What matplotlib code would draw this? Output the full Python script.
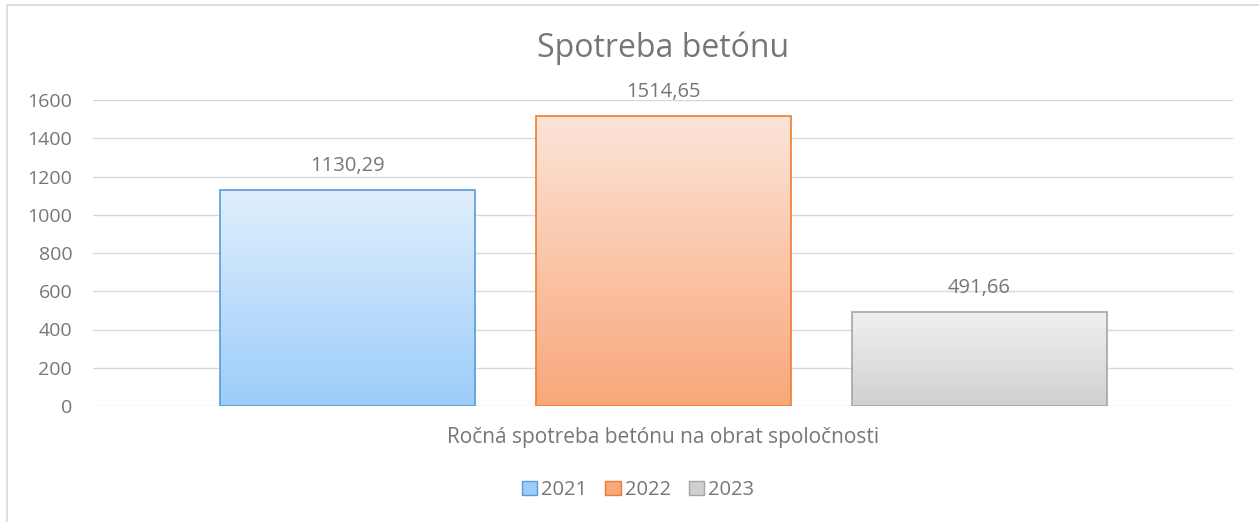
import matplotlib
matplotlib.use('Agg')
import matplotlib.pyplot as plt
from matplotlib.patches import Rectangle, Patch
from matplotlib.colors import LinearSegmentedColormap
from matplotlib.lines import Line2D
import numpy as np

plt.rcParams['font.family'] = ['Open Sans', 'DejaVu Sans']

years = ["2021", "2022", "2023"]
values = [1130.29, 1514.65, 491.66]
labels = ["1130,29", "1514,65", "491,66"]
category = "Ročná spotreba betónu na obrat spoločnosti"
title = "Spotreba betónu"

# top color, bottom color, edge color
styles = [
    ("#e0effd", "#9ccdfa", "#5b9bd5"),
    ("#fce4d7", "#f9a77a", "#ed7d31"),
    ("#f1f1f1", "#d0d0d0", "#a5a5a5"),
]

text_col = "#767676"
grid_col = "#d9d9d9"

fig = plt.figure(figsize=(12.59, 5.22), dpi=100)
W, H = 1259, 522

# chart border (only left and top show in the picture)
fig.add_artist(Line2D([7 / W, 7 / W, 1.0], [0.0, 1 - 5 / H, 1 - 5 / H], transform=fig.transFigure,
                      color="#d9d9d9", linewidth=1.2))

ax = fig.add_axes([93 / W, 1 - 406 / H, 1140 / W, 306 / H])
ax.set_yticks(np.arange(0, 1601, 200))
ax.tick_params(axis='y', length=0, labelsize=14, labelcolor=text_col, pad=15)
ax.set_xticks([])
for s in ax.spines.values():
    s.set_visible(False)
ax.grid(axis='y', color=grid_col, linewidth=1)
ax.set_axisbelow(True)

bw = 255 / 1140
step = 316 / 1140
centers = [0.5 - step, 0.5, 0.5 + step]

for i, (c, v, lab) in enumerate(zip(centers, values, labels)):
    top, bot, edge = styles[i]
    cmap = LinearSegmentedColormap.from_list("g%d" % i, [bot, top])
    grad = np.linspace(0, 1, 256).reshape(-1, 1)
    x0 = c - bw / 2
    im = ax.imshow(grad, extent=[x0, x0 + bw, 0, v], origin='lower', aspect='auto',
                   cmap=cmap, zorder=2)
    rect = Rectangle((x0, 0), bw, v, facecolor='none', edgecolor=edge, linewidth=1.2, zorder=3)
    ax.add_patch(rect)
    im.set_clip_path(rect)
    ax.annotate(lab, (c, v), xytext=(0, 10), textcoords='offset points', ha='center',
                va='bottom', fontsize=14.5, color=text_col)

ax.set_xlim(0, 1)
ax.set_ylim(0, 1600)

fig.text(663 / W, 1 - 48 / H, title, ha='center', va='center', fontsize=23, color=text_col)
fig.text(663 / W, 1 - 437 / H, category, ha='center', va='center', fontsize=15, color=text_col)

handles = [Patch(facecolor=styles[i][1], edgecolor=styles[i][2], linewidth=1) for i in range(3)]
fig.legend(handles, years, loc='center', bbox_to_anchor=(638 / W, 1 - 490 / H), ncol=3,
           frameon=False, fontsize=14.5, labelcolor=text_col, handlelength=0.75,
           handleheight=0.75, handletextpad=0.2, columnspacing=0.9)

fig.savefig("out.png", dpi=100, facecolor="white")
